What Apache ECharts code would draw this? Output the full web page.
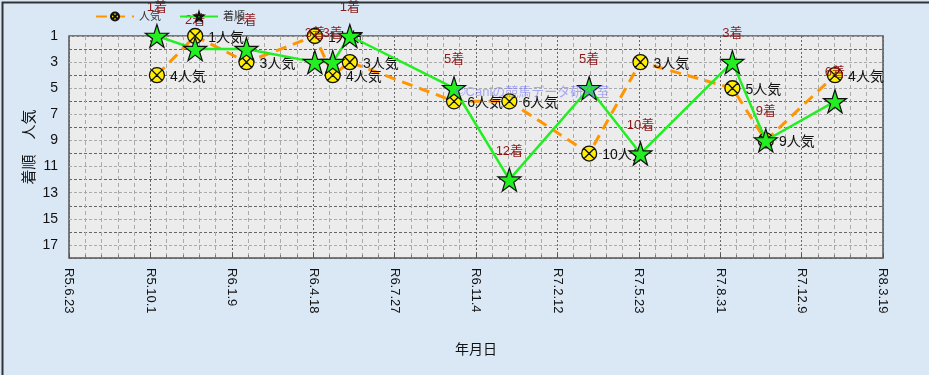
<!DOCTYPE html>
<html>
<head>
<meta charset="utf-8">
<script src="https://cdn.jsdelivr.net/npm/echarts@6/dist/echarts.min.js"></script>
<style>
html,body{margin:0;padding:0;background:#d9e7f5;}
#chart{width:929px;height:375px;}
</style>
</head>
<body>
<div id="chart"></div>
<script>
// ---- data ----
var startDate = '2023-06-23';
var tickLabels = ['R5.6.23','R5.10.1','R6.1.9','R6.4.18','R6.7.27','R6.11.4','R7.2.12','R7.5.23','R7.8.31','R7.12.9','R8.3.19'];
var raceDates = ['2023-10-09','2023-11-25','2024-01-27','2024-04-20','2024-05-12','2024-06-02','2024-10-08','2024-12-15','2025-03-23','2025-05-25','2025-09-15','2025-10-26','2026-01-19'];
var popularity = [4, 1, 3, 1, 4, 3, 6, 6, 10, 3, 5, 9, 4];
var finish =     [1, 2, 2, 3, 3, 1, 5, 12, 5, 10, 3, 9, 6];
var yTickValues = [1,3,5,7,9,11,13,15,17];

function dayOffset(s){
  var p = s.split('-').map(Number);
  var q = startDate.split('-').map(Number);
  return Math.round((Date.UTC(p[0],p[1]-1,p[2]) - Date.UTC(q[0],q[1]-1,q[2]))/86400000);
}
var popData = raceDates.map(function(d,i){return [dayOffset(d), popularity[i]];});
var finData = raceDates.map(function(d,i){return [dayOffset(d), finish[i]];});

var circleX = 'path://M10,0 A10,10 0 1,1 9.999,0 Z M2.93,2.93 L17.07,17.07 M17.07,2.93 L2.93,17.07';

var chart = echarts.init(document.getElementById('chart'));
var FONT = '"Liberation Sans","Noto Sans CJK JP",sans-serif';
chart.setOption({
  backgroundColor: '#dae8f6',
  textStyle: {fontFamily: FONT},
  animation: false,
  legend: {
    left: 90, top: 6,
    itemWidth: 38, itemHeight: 10, itemGap: 18,
    textStyle: {fontSize: 11, color: '#333', fontFamily: FONT},
    data: ['人気','着順']
  },
  grid: {
    left: 69, right: 46, top: 36, bottom: 117,
    show: true, backgroundColor: '#ececec', borderColor: '#555', borderWidth: 1.5
  },
  xAxis: {
    type: 'value', min: 0, max: 1000, interval: 100,
    name: '年月日', nameLocation: 'middle', nameGap: 85,
    nameTextStyle: {fontSize: 14, color: '#111', fontFamily: FONT},
    axisLine: {show: false},
    axisTick: {show: true, inside: true, length: 4, lineStyle: {color: '#555'}},
    minorTick: {show: true, splitNumber: 5, length: 3, lineStyle: {color: '#777'}},
    axisLabel: {
      rotate: -90, margin: 10, fontSize: 13, color: '#111', fontFamily: FONT,
      formatter: function(v){ var i = Math.round(v/100); return tickLabels[i] || ''; }
    },
    splitLine: {show: true, lineStyle: {color: '#666', type: [2,2], width: 1}},
    minorSplitLine: {show: true, lineStyle: {color: '#aaa', type: [4,3], width: 1}}
  },
  yAxis: {
    type: 'value', inverse: true, min: 1, max: 18, interval: 1,
    name: '着順　人気', nameLocation: 'middle', nameGap: 32, nameRotate: 90,
    nameMoveOverlap: false,
    nameTextStyle: {fontSize: 15, color: '#111', fontFamily: FONT},
    axisLine: {show: false},
    axisTick: {show: false},
    axisLabel: {
      margin: 11, fontSize: 14, color: '#111', fontFamily: FONT,
      formatter: function(v){ return yTickValues.indexOf(v) >= 0 ? String(v) : ''; }
    },
    splitLine: {show: true, lineStyle: {color: ['#aaa','#666'], type: [3,2], width: 1}}
  },
  series: [
    {
      name: '人気', type: 'line', data: popData,
      symbol: circleX, symbolSize: 15,
      lineStyle: {color: '#ff9500', width: 3, type: [11,7]},
      itemStyle: {color: '#ffee00', borderColor: '#111', borderWidth: 1.3},
      label: {show: true, position: 'right', distance: 5, offset: [0,2],
        fontSize: 14, color: '#111', fontFamily: FONT,
        formatter: function(p){ return p.value[1] + '人気'; }},
      z: 2
    },
    {
      name: '着順', type: 'line', data: finData,
      symbol: 'path://M50,0 L61.8,36.2 L100,36.2 L69.1,58.6 L80.9,95.1 L50,72.7 L19.1,95.1 L30.9,58.6 L0,36.2 L38.2,36.2 Z',
      symbolSize: 23,
      lineStyle: {color: '#22ee22', width: 2.5},
      itemStyle: {color: '#22ee22', borderColor: '#111', borderWidth: 1.2},
      label: {show: true, position: 'top', distance: 10,
        fontSize: 13, color: '#8b1a1a', fontFamily: FONT,
        formatter: function(p){ return p.value[1] + '着'; }},
      z: 3
    }
  ],
  graphic: [
    {type: 'text', left: 456, top: 86, silent: true, z: 10,
      style: {text: '©Caniの競馬データ研究室', fontSize: 13, fill: 'rgba(110,110,255,0.55)', fontFamily: FONT}},
    {type: 'rect', left: 0, top: 0, silent: true, z: 100,
      shape: {x: 0, y: 0, width: 928, height: 374},
      style: {fill: 'none', stroke: '#333', lineWidth: 2}}
  ]
});
</script>
</body>
</html>
